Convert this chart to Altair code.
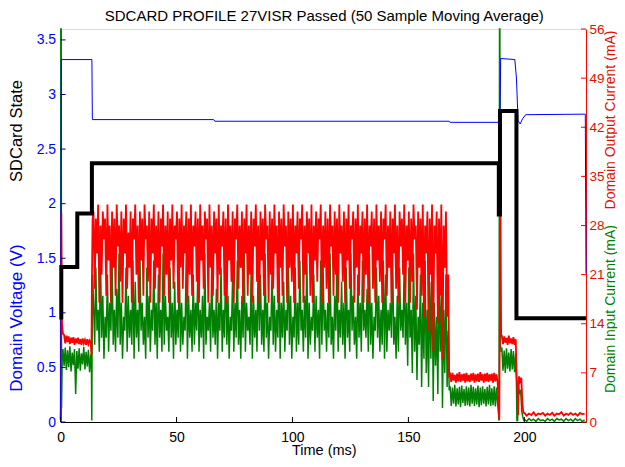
import altair as alt
import pandas as pd

# ---------------- values ----------------
# Domain Voltage (V) - blue, left axis
blue_t = [0.0, 0.3, 13.5, 13.7, 66.0, 66.5, 167.5, 168.0, 189.5, 189.8, 195.9, 196.6, 197.3, 198.2, 199.3, 200.6, 226.3, 226.6]
blue_v = [0.02, 3.32, 3.32, 2.77, 2.77, 2.755, 2.755, 2.745, 2.745, 3.33, 3.32, 3.15, 2.76, 2.73, 2.78, 2.815, 2.82, 1.36]

# SDCard State - black, left axis
state_t = [0.3, 0.3, 7.2, 7.2, 13.5, 13.5, 189.0, 189.0, 189.5, 189.5, 196.6, 196.6, 226.6]
state_v = [0.94, 1.42, 1.42, 1.91, 1.91, 2.37, 2.37, 1.90, 1.90, 2.85, 2.85, 0.95, 0.95]

# Domain Output Current (mA) - red, right axis
red_start_t = [0.0, 0.15, 0.3, 0.6, 1.0]
red_start_v = [0.5, 2.0, 29.8, 14.0, 12.6]
red_idle = [12.4, 11.2, 12.3, 11.4, 12.2, 11.1, 12.0, 11.3, 12.1, 11.0, 11.9, 11.2,
            12.0, 11.1, 11.8, 11.0, 11.9, 11.2, 11.7, 11.0, 11.8, 11.1, 11.6, 11.3]
red_rise_t = [13.3, 13.5, 13.8]
red_rise_v = [9.5, 20.0, 29.0]
red_burst = [
    30, 19, 29, 24, 31, 17, 28, 21, 30, 26, 29, 18, 31, 23, 28, 17, 30, 22,
    29, 18, 31, 25, 28, 20, 30, 17, 29, 24, 31, 19, 27, 22, 30, 17, 29, 26,
    31, 21, 28, 17, 30, 23, 29, 18, 31, 26, 28, 20, 30, 17, 29, 24, 31, 19,
    28, 22, 30, 17, 29, 25, 31, 18, 28, 21, 30, 17, 29, 23, 31, 19, 28, 26,
    30, 17, 29, 22, 31, 19, 28, 24, 30, 17, 29, 21, 31, 18, 28, 25, 30, 20,
    29, 17, 31, 23, 28, 19, 30, 26, 29, 17, 31, 22, 28, 18, 30, 24, 29, 17,
    31, 21, 28, 25, 30, 18, 29, 17, 31, 23, 28, 20, 30, 17, 29, 26, 31, 19,
    28, 22, 30, 17, 29, 24, 31, 18, 28, 21, 30, 17, 29, 25, 31, 20, 28, 17,
    30, 23, 29, 18, 31, 26, 28, 17, 30, 21, 29, 19, 31, 24, 28, 17, 30, 22,
    29, 18, 31, 25, 28, 17, 30, 22, 29, 20, 31, 17, 28, 24, 30, 19, 29, 26,
    31, 17, 28, 21, 30, 24, 29, 18, 31, 17, 28, 23, 30, 20, 29, 26, 31, 17,
    28, 22, 30, 19, 29, 17, 31, 25, 28, 18, 30, 21, 29, 17, 31, 24, 28, 20,
    30, 17, 29, 23, 31, 19, 28, 26, 30, 17, 29, 22, 31, 18, 28, 24, 30, 17,
    29, 21, 31, 17, 28, 25, 30, 19, 29, 17, 31, 23, 28, 20, 30, 17, 29, 26,
    31, 18, 28, 22, 30, 17, 29, 24, 31, 19, 28, 17, 30, 25, 29, 21, 31, 17,
    28, 23, 30, 17, 29, 20, 31, 26, 28, 16, 30, 22, 29, 18, 31, 15, 28, 24,
    30, 13, 29, 21, 31, 10, 28, 24, 30, 14, 29, 18, 31, 9, 28, 22, 30, 15,
]
red_fall_t = [167.2, 167.6]
red_fall_v = [21.0, 6.6]
red_low = [6.8, 5.7, 7.0, 5.9, 6.7, 5.6, 6.9, 5.8, 7.1, 5.7, 6.8, 5.9, 6.9, 5.6,
           7.0, 5.8, 6.7, 5.7, 6.9, 5.9, 7.0, 5.6, 6.8, 5.8, 6.9, 5.7, 7.1, 5.9,
           6.8, 5.6, 6.9, 5.8, 7.0, 5.7, 6.8, 5.9, 6.9, 5.6, 7.0, 5.8, 6.8, 5.7]
red_spike_t = [189.2, 189.7, 190.0]
red_spike_v = [0.3, 31.3, 12.3]
red_mid = [12.3, 11.1, 12.2, 11.3, 12.0, 11.0, 12.3, 11.2, 11.9, 11.1, 12.1, 11.0, 11.8]
red_drop_t = [196.7, 197.0, 197.3, 197.7, 198.2, 198.7, 199.2, 199.6]
red_drop_v = [6.4, 5.0, 1.0, 6.5, 5.8, 6.3, 2.5, 1.3]
red_tail = [1.3, 0.9, 1.2, 1.0, 1.4, 0.9, 1.2, 1.1, 1.3, 0.9, 1.2, 1.0, 1.3, 0.9,
            1.2, 1.1, 1.4, 0.9, 1.2, 1.0, 1.3, 1.0, 1.2, 0.9, 1.3, 1.1, 1.2]

# Domain Input Current (mA) - green, right axis
green_start_t = [0.0, 0.1, 0.25, 0.4, 0.7, 1.0]
green_start_v = [0.3, 56.0, 56.0, 2.0, 9.0, 10.4]
green_idle = [8.0, 10.6, 7.4, 10.2, 7.8, 10.8, 7.2, 9.9, 8.1, 10.4, 4.0, 10.1,
              7.6, 10.5, 7.3, 9.8, 8.2, 10.7, 7.5, 10.0, 7.9, 10.3, 7.1, 9.6]
green_rise_t = [13.3, 13.45, 13.6, 13.8]
green_rise_v = [8.0, 0.2, 12.0, 21.0]
green_burst = [
    17, 11, 22, 13, 16, 10, 24, 12, 18, 9, 15, 12, 21, 10, 17, 13, 23, 11,
    16, 10, 19, 12, 24, 11, 17, 9, 15, 13, 22, 10, 18, 12, 16, 11, 23, 9,
    20, 12, 16, 10, 24, 13, 17, 11, 15, 9, 22, 12, 18, 10, 16, 13, 23, 11,
    17, 9, 21, 12, 16, 10, 24, 11, 18, 13, 15, 10, 22, 12, 17, 9, 20, 11,
    16, 12, 23, 10, 17, 11, 15, 13, 24, 9, 18, 12, 16, 10, 21, 11, 17, 13,
    22, 10, 16, 12, 18, 9, 24, 11, 15, 13, 17, 10, 23, 12, 16, 11, 19, 9,
    17, 13, 22, 10, 16, 12, 24, 11, 18, 9, 15, 13, 21, 10, 17, 12, 23, 11,
    16, 9, 18, 12, 24, 10, 17, 13, 15, 11, 22, 9, 18, 12, 16, 10, 23, 13,
    21, 11, 16, 10, 24, 12, 17, 9, 15, 13, 22, 11, 18, 10, 16, 12, 23, 9,
    17, 12, 20, 10, 16, 13, 24, 11, 18, 9, 15, 12, 22, 10, 17, 11, 23, 13,
    16, 10, 18, 12, 24, 9, 17, 11, 15, 13, 21, 10, 18, 12, 16, 9, 23, 11,
    22, 13, 16, 10, 17, 12, 24, 11, 15, 9, 18, 13, 23, 10, 16, 12, 20, 11,
    17, 9, 22, 12, 16, 10, 24, 13, 18, 11, 15, 9, 21, 12, 17, 10, 23, 13,
    16, 12, 19, 10, 24, 11, 17, 9, 15, 13, 22, 12, 18, 10, 16, 11, 23, 9,
    21, 10, 16, 13, 17, 12, 24, 11, 15, 9, 18, 10, 22, 13, 16, 12, 23, 11,
    17, 8, 22, 12, 16, 7, 24, 10, 18, 6, 15, 11, 21, 5, 17, 9, 23, 7,
    16, 5, 20, 9, 24, 3, 17, 8, 15, 4, 22, 10, 18, 2, 16, 7, 21, 5,
]
green_fall_t = [167.2, 167.6]
green_fall_v = [13.0, 4.5]
green_low = [5.1, 2.3, 4.9, 2.6, 5.3, 2.2, 4.8, 2.5, 5.0, 2.1, 5.2, 2.7, 4.7, 2.3,
             5.1, 2.4, 4.9, 2.2, 5.3, 2.6, 5.0, 2.3, 4.8, 2.5, 5.2, 2.1, 4.9, 2.4,
             5.1, 2.6, 4.7, 2.2, 5.0, 2.5, 5.3, 2.3, 4.8, 2.4, 5.1, 2.2, 4.9, 2.6]
green_spike_t = [189.1, 189.3, 189.45, 189.7, 190.0]
green_spike_v = [0.2, 56.0, 56.0, 11.0, 10.0]
green_mid = [10.6, 7.3, 10.2, 7.0, 10.5, 7.6, 9.9, 7.2, 10.4, 7.5, 10.1, 7.1, 9.8]
green_drop_t = [196.6, 196.8, 197.1, 197.5, 197.9, 198.4, 198.9, 199.3, 199.7]
green_drop_v = [5.5, 0.2, 0.2, 4.8, 4.2, 4.6, 1.5, 0.8, 0.3]
green_tail = [0.4, 0.1, 0.5, 0.2, 0.4, 0.1, 0.5, 0.2, 0.3, 0.1, 0.5, 0.2, 0.4, 0.1,
              0.5, 0.3, 0.4, 0.1, 0.5, 0.2, 0.4, 0.1, 0.5, 0.2, 0.4, 0.1, 0.3]

left_ticks = [0, 0.5, 1, 1.5, 2, 2.5, 3, 3.5]
right_ticks = [0, 7, 14, 21, 28, 35, 42, 49, 56]
x_ticks = [0, 50, 100, 150, 200]


# ---------------- assembling ----------------
def seq(start, step, vals):
    return [round(start + step * k, 3) for k in range(len(vals))]


def frame(pairs):
    ts, vs = [], []
    for t, v in pairs:
        ts += list(t)
        vs += list(v)
    return pd.DataFrame({"t": ts, "v": vs, "i": range(len(ts))})


red_df = frame([
    (red_start_t, red_start_v), (seq(1.5, 0.5, red_idle), red_idle),
    (red_rise_t, red_rise_v), (seq(14.2, 0.5, red_burst), red_burst),
    (red_fall_t, red_fall_v), (seq(168.0, 0.5, red_low), red_low),
    (red_spike_t, red_spike_v), (seq(190.3, 0.5, red_mid), red_mid),
    (red_drop_t, red_drop_v), (seq(200.0, 1.0, red_tail), red_tail),
])
green_df = frame([
    (green_start_t, green_start_v), (seq(1.5, 0.5, green_idle), green_idle),
    (green_rise_t, green_rise_v), (seq(14.2, 0.5, green_burst), green_burst),
    (green_fall_t, green_fall_v), (seq(168.0, 0.5, green_low), green_low),
    (green_spike_t, green_spike_v), (seq(190.3, 0.5, green_mid), green_mid),
    (green_drop_t, green_drop_v), (seq(200.0, 1.0, green_tail), green_tail),
])
blue_df = frame([(blue_t, blue_v)])
state_df = frame([(state_t, state_v)])

W, H = 525.4, 393
FONT = "Liberation Sans"
RED_TXT = "#e01000"

xenc = alt.X("t:Q", scale=alt.Scale(domain=[0, 226.6], nice=False, zero=False),
             axis=alt.Axis(values=x_ticks, title=None, grid=False, ticks=False,
                           domainColor="black", labelColor="black", labelFontSize=14,
                           labelFont=FONT, labelPadding=8, labelFlush=False))

yl = alt.Y("v:Q", scale=alt.Scale(domain=[0, 3.6], nice=False, zero=False),
           axis=alt.Axis(orient="left", values=left_ticks, format="~g", grid=False,
                         ticks=False, domainColor="#0000a0", labelColor="#0000ff",
                         labelFontSize=14, labelFont=FONT, labelPadding=5, title=None,
                         labelFlush=False))
yr = alt.Y("v:Q", scale=alt.Scale(domain=[0, 56], nice=False, zero=False),
           axis=alt.Axis(orient="right", values=right_ticks, grid=False, ticks=False,
                         domainColor="#ff0000", labelColor=RED_TXT, labelFontSize=13.5,
                         labelFont=FONT, labelPadding=3, title=None, labelFlush=False))


def line(df, color, width, yenc):
    return alt.Chart(df).mark_line(color=color, strokeWidth=width, clip=False,
                                   strokeJoin="miter").encode(
        x=xenc, y=yenc, order="i:Q")


green_line = line(green_df, "#008000", 1.5, yr)
red_line = line(red_df, "#ff0000", 1.8, yr)
rticks = alt.Chart(pd.DataFrame({"v": right_ticks})).mark_rule(color="#ff0000").encode(
    y=yr, x=alt.value(W - 5), x2=alt.value(W))

blue_line = line(blue_df, "#0000ff", 1, yl)
state_line = line(state_df, "#000000", 4, yl)
lticks = alt.Chart(pd.DataFrame({"v": left_ticks})).mark_rule(color="#000080").encode(
    y=yl, x=alt.value(0), x2=alt.value(5))

bticks = alt.Chart(pd.DataFrame({"t": x_ticks})).mark_rule(color="black").encode(
    x=xenc, y=alt.value(H - 5), y2=alt.value(H))


def label(text, x, y, color, size, angle=0):
    return alt.Chart(pd.DataFrame({"a": [0]})).mark_text(
        text=text, color=color, fontSize=size, font=FONT, angle=angle,
        align="center", baseline="middle").encode(x=alt.value(x), y=alt.value(y))


texts = [
    label("SDCARD PROFILE 27VISR Passed (50 Sample Moving Average)", 263.7, -13.4, "black", 15),
    label("Time (ms)", 263.7, H + 29, "black", 14.5),
    label("SDCard State", -43.6, 102, "black", 16.5, 270),
    label("Domain Voltage (V)", -43.6, 289, "#0000ff", 17, 270),
    label("Domain Output Current (mA)", 549.9, 91, RED_TXT, 14, 270),
    label("Domain Input Current (mA)", 549.9, 280, "#008000", 14, 270),
]

right_group = alt.layer(green_line, red_line, rticks)
left_group = alt.layer(blue_line, state_line, lticks)

chart = alt.layer(right_group, left_group, bticks, *texts).resolve_scale(
    y="independent"
).properties(
    width=W, height=H,
    autosize=alt.AutoSizeParams(type="none"),
    padding={"left": 52.6, "top": 21, "right": 31, "bottom": 36},
).configure_view(stroke=None).configure(background="white")

chart.save("out.html", embed_options={"renderer": "svg", "actions": False})
